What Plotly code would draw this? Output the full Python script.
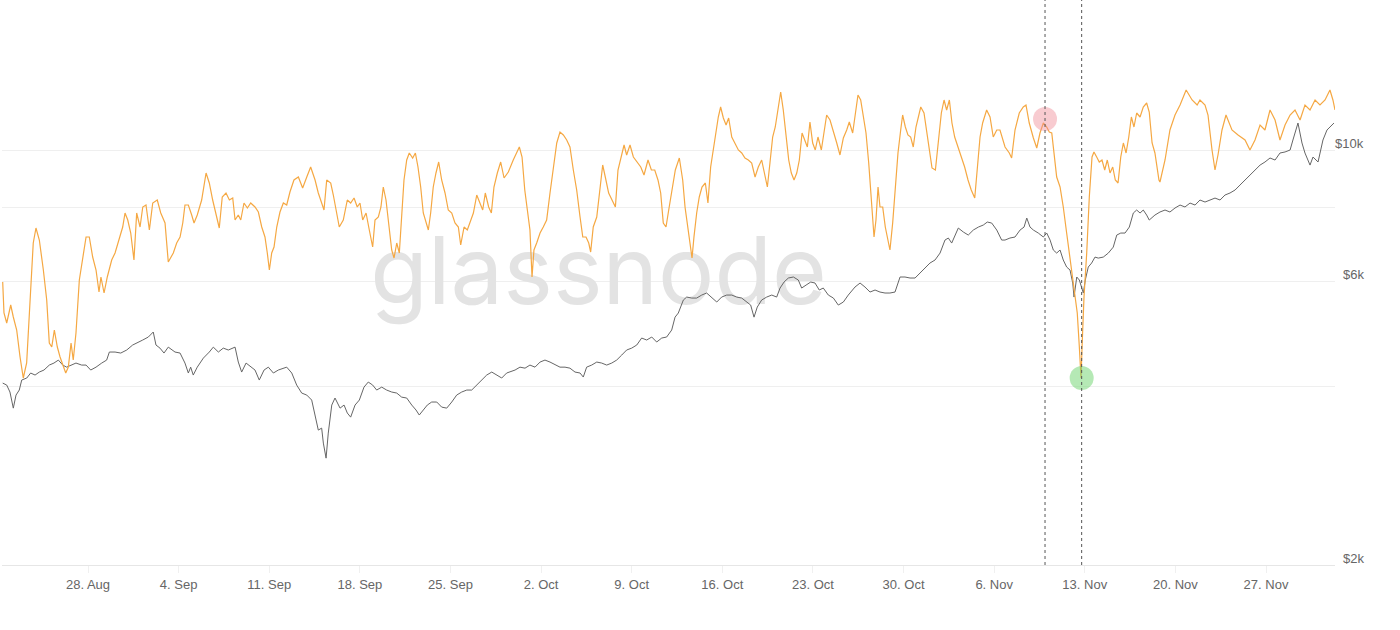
import math
import pandas as pd
import plotly.graph_objects as go

BASE = pd.Timestamp("2017-08-21")

# BTC price (USD), time in days since 2017-08-21
price_days = [
    0.41, 0.72, 0.97, 1.23, 1.44, 1.69, 1.88, 2.27, 2.57, 2.91,
    3.24, 3.60, 4.01, 4.37, 4.71, 5.05, 5.35, 5.74, 6.07, 6.51,
    6.85, 7.21, 7.62, 8.06, 8.44, 8.65, 9.09, 9.53, 9.99, 10.45,
    10.81, 11.23, 11.66, 12.04, 12.25, 12.56, 12.87, 13.20,
    13.72, 14.11, 14.49, 14.75, 14.93, 15.13, 15.44, 15.91, 16.37, 16.68,
    17.07, 17.45, 17.84, 18.36, 18.61, 18.87, 19.21, 19.57, 19.90, 20.23,
    20.60, 20.93, 21.32, 21.70, 22.09, 22.35, 22.74, 23.12, 23.51, 23.90,
    24.28, 24.54, 24.79, 25.05, 25.18, 25.39, 25.56, 25.83,
    26.08,
    26.47, 26.78, 27.03, 27.29, 27.63, 27.96, 28.32, 28.65, 28.99, 29.30,
    29.69, 30.07, 30.46, 30.85, 31.23, 31.62, 32.01, 32.34, 32.59, 32.90,
    33.21, 33.55, 33.94, 34.32, 34.71, 35.10, 35.48, 35.87, 36.26, 36.64,
    37.03, 37.41, 37.80, 38.19, 38.57, 38.96, 39.34,
    39.99, 40.37, 40.76, 41.14, 41.53, 41.92, 42.30, 42.69, 43.08, 43.46,
    43.85, 44.23, 44.62, 45.01, 45.26, 45.52, 45.91, 46.30, 46.68, 47.07,
    47.46, 47.84, 48.23, 48.61, 49.00, 49.39, 49.77, 50.16, 50.55, 50.93,
    51.32, 51.70, 52.09, 52.35, 52.60,
    52.99, 53.25, 53.64, 54.02, 54.41, 54.79, 55.18, 55.57, 55.95, 56.34,
    56.73, 57.11, 57.50, 57.89, 58.19, 58.45, 58.70, 59.04, 59.43, 59.82,
    60.20, 60.46, 60.77, 61.10, 61.49, 61.87, 62.13, 62.47, 62.83, 63.16,
    63.49, 63.80, 64.19, 64.58, 64.96, 65.35, 65.73, 66.25, 66.64, 67.02,
    67.41, 67.80, 68.18, 68.57, 68.95, 69.34, 69.73, 70.11, 70.50, 70.89,
    71.27, 71.66, 72.04, 72.43, 72.82, 73.20, 73.46, 73.72, 73.97, 74.23,
    74.62, 75.00, 75.39, 75.78, 76.16, 76.47, 76.81, 77.20, 77.58, 77.84,
    78.22, 78.61, 79.00, 79.31, 79.52, 79.77, 80.03, 80.41, 80.80, 81.06,
    81.32, 81.57, 81.83, 82.09, 82.34, 82.60, 82.86, 83.07, 83.17, 83.38,
    83.58, 83.73, 83.89, 84.04, 84.27, 84.53, 84.79, 85.04, 85.43, 85.82,
    86.20, 86.47, 86.78, 87.11, 87.44, 87.75, 88.01, 88.27, 88.52, 88.78, 88.98,
    89.42, 89.81, 90.20, 90.58, 90.97, 91.36, 91.74, 92.13, 92.52, 92.90,
    93.29, 93.67, 94.06, 94.45, 94.83, 95.22, 95.61, 95.99, 96.38, 96.76,
    97.15, 97.54, 97.92, 98.31, 98.70, 99.08, 99.47, 99.86, 100.08, 100.47,
    100.78, 101.01, 101.40, 101.63, 102.02, 102.40, 102.71, 103.10, 103.25,
]
price_usd = [
    4050, 4019, 3912, 3675, 3866, 3942, 4098, 4130, 4211, 4178,
    4227, 4260, 4343, 4377, 4428, 4343, 4308, 4343, 4377, 4343,
    4343, 4260, 4308, 4377, 4428, 4568, 4568, 4550, 4604, 4694,
    4730, 4786, 4842, 4937, 4694, 4638, 4550, 4656,
    4568, 4550, 4377, 4211, 4308, 4178, 4308, 4462, 4568, 4656,
    4568, 4638, 4604, 4656, 4394, 4227, 4377, 4308, 4260, 4098,
    4260, 4308, 4211, 4260, 4291, 4308, 4211, 4019, 3896, 3866,
    3792, 3549, 3375, 3401, 3209, 3027, 3336, 3719,
    3822,
    3675, 3719, 3606, 3549, 3719, 3792, 3987, 4066, 4019, 3942,
    3987, 3942, 3912, 3896, 3835, 3822, 3719, 3648, 3578, 3648,
    3719, 3763, 3763, 3690, 3675, 3763, 3866, 3912, 3942, 3942,
    4019, 4098, 4178, 4227, 4178, 4130, 4211,
    4260, 4308, 4291, 4343, 4308, 4394, 4428, 4394, 4343, 4308,
    4308, 4291, 4227, 4211, 4146, 4308, 4343, 4394, 4377, 4343,
    4377, 4428, 4515, 4604, 4638, 4694, 4823, 4786, 4842, 4749,
    4823, 4842, 4975, 5230, 5314,
    5589, 5654, 5632, 5632, 5698, 5743, 5654, 5546, 5654, 5698,
    5698, 5654, 5632, 5546, 5481, 5230, 5438, 5589, 5654, 5698,
    5654, 5855, 5993, 6087, 6111, 6040, 5855, 5923, 5993, 5970,
    5810, 5855, 5698, 5632, 5481, 5546, 5698, 5878, 5970, 5878,
    5765, 5810, 5765, 5743, 5743, 5765, 6111, 6111, 6087, 6087,
    6206, 6352, 6451, 6527, 6706, 7053, 7108, 6971, 7191, 7389,
    7276, 7191, 7332, 7417, 7475, 7563, 7534, 7332, 7053, 7053,
    7108, 7136, 7332, 7417, 7681, 7417, 7332, 7247, 7136, 7247,
    7053, 6785, 6706, 6785, 6527, 6352, 6279, 5970, 5654, 6111,
    6040, 5878, 5743, 6040, 6352, 6451, 6602, 6576, 6602, 6706,
    6862, 7191, 7247, 7247, 7417, 7832, 7924, 7832, 7924, 7771, 7622,
    7771, 7863, 7924, 7863, 7986, 8078, 8018, 8141, 8078, 8237,
    8173, 8237, 8300, 8237, 8398, 8465, 8563, 8730, 8902, 9075,
    9254, 9433, 9546, 9695, 9619, 9884, 9925, 10000, 10396, 11104,
    10275, 9884, 9433, 9732, 9546, 10396, 10807, 11018, 11104,
]

# Hash rate (EH/s), time in days since 2017-08-21
hash_days = [
    0.41, 0.51, 0.72, 1.03, 1.23, 1.49, 1.75, 2.00, 2.26, 2.52,
    2.77, 2.98, 3.24, 3.55, 3.81, 4.01, 4.20, 4.40, 4.63, 4.84,
    5.09, 5.28, 5.48, 5.69, 5.86, 6.07, 6.33, 6.59, 6.85, 7.10,
    7.36, 7.62, 7.85, 8.00, 8.24, 8.49, 8.83, 9.09, 9.42, 9.68,
    9.86, 10.07, 10.30, 10.55, 10.76, 11.02, 11.23, 11.48, 11.74, 12.00,
    12.35, 12.62, 12.95, 13.20, 13.59, 13.85, 14.11, 14.32, 14.49, 14.75,
    15.01, 15.19, 15.44, 15.78, 16.12, 16.37, 16.63, 16.89, 17.14, 17.37,
    17.66, 17.92, 18.18, 18.36, 18.61, 18.80, 19.05, 19.31, 19.57, 19.90,
    20.16, 20.42, 20.67, 20.85, 21.01, 21.19, 21.37, 21.58, 21.83, 22.09,
    22.35, 22.60, 22.91, 23.25, 23.58, 23.90, 24.20, 24.54, 24.79, 25.05,
    25.23, 25.44, 25.75, 25.95, 26.21, 26.41, 26.72, 27.03, 27.29, 27.55,
    27.80, 28.01, 28.22, 28.48, 28.73, 28.99, 29.17, 29.43, 29.63, 29.81,
    30.02, 30.23, 30.46, 30.64, 30.85, 31.05, 31.23, 31.41, 31.62, 31.82,
    32.08, 32.29, 32.49, 32.70, 32.90, 33.11, 33.29, 33.47, 33.67, 33.88,
    34.09, 34.32, 34.58, 34.83, 35.10, 35.35, 35.61, 35.79, 36.05, 36.30,
    36.56, 36.77, 37.03, 37.28, 37.49, 37.69, 37.95, 38.16, 38.36, 38.62,
    38.88, 39.14, 39.47, 39.85, 40.12, 40.32, 40.53, 40.74, 40.94, 41.14,
    41.30, 41.45, 41.66, 41.92, 42.17, 42.43, 42.69, 42.94, 43.21, 43.46,
    43.72, 43.98, 44.23, 44.49, 44.75, 45.01, 45.22, 45.47, 45.68, 45.83,
    46.03, 46.30, 46.55, 46.76, 46.96, 47.22, 47.48, 47.74, 47.94, 48.20,
    48.41, 48.61, 48.87, 49.13, 49.39, 49.70, 49.95, 50.26, 50.52, 50.78,
    51.03, 51.24, 51.44, 51.65, 51.86, 52.11, 52.37, 52.68, 52.94, 53.12,
    53.30, 53.50, 53.66, 53.81, 54.02, 54.22, 54.43, 54.69, 54.89, 55.10,
    55.30, 55.51, 55.69, 55.87, 56.08, 56.29, 56.49, 56.73, 56.98, 57.24,
    57.50, 57.75, 58.01, 58.27, 58.53, 58.78, 59.04, 59.22, 59.48, 59.68,
    59.89, 60.09, 60.30, 60.51, 60.71, 60.92, 61.13, 61.33, 61.54, 61.75,
    61.95, 62.16, 62.37, 62.57, 62.77, 62.98, 63.18, 63.39, 63.65, 63.86,
    64.06, 64.32, 64.57, 64.84, 65.09, 65.35, 65.61, 65.81, 66.07, 66.27,
    66.48, 66.69, 66.89, 67.10, 67.31, 67.51, 67.72, 67.87, 68.03, 68.18,
    68.39, 68.59, 68.75, 68.95, 69.16, 69.36, 69.57, 69.78, 69.93, 70.14,
    70.34, 70.55, 70.75, 70.96, 71.17, 71.33, 71.58, 71.79, 71.99, 72.20,
    72.46, 72.72, 72.92, 73.13, 73.33, 73.54, 73.74, 73.95, 74.21, 74.46,
    74.72, 74.98, 75.23, 75.50, 75.70, 75.91, 76.11, 76.42, 76.68, 76.93,
    77.20, 77.45, 77.84, 78.17, 78.35, 78.61, 78.94, 79.25, 79.46, 79.71,
    80.03, 80.29, 80.54, 80.80, 81.06, 81.26, 81.45, 81.57, 81.70, 81.83,
    82.09, 82.34, 82.60, 82.86, 83.07, 83.25, 83.42, 83.58, 83.71, 83.79,
    83.94, 84.15, 84.35, 84.56, 84.71, 84.92, 85.12, 85.33, 85.54, 85.74,
    85.95, 86.16, 86.36, 86.57, 86.78, 86.98, 87.19, 87.40, 87.60, 87.80,
    88.01, 88.27, 88.52, 88.78, 88.98, 89.20, 89.42, 89.73, 89.81, 90.20,
    90.58, 90.97, 91.36, 91.83, 92.29, 92.68, 92.90, 93.29, 93.52, 93.83,
    94.06, 94.29, 94.60, 94.91, 95.37, 95.84, 96.38, 96.76, 97.15, 97.54,
    97.92, 98.31, 98.70, 99.08, 99.47, 99.86, 100.24, 100.63, 101.01, 101.40,
    101.79, 102.17, 102.56, 102.94, 103.17, 103.33,
]
hash_rate = [
    8.49, 7.56, 7.26, 7.80, 7.44, 7.05, 6.24, 5.61, 6.06, 8.04,
    9.66, 10.11, 9.75, 8.85, 7.95, 6.66, 6.54, 7.05, 6.54, 6.24,
    5.94, 5.76, 5.94, 6.66, 6.15, 6.96, 8.55, 9.15, 9.84, 9.84,
    9.24, 8.85, 8.19, 8.64, 8.16, 8.64, 9.15, 9.36, 9.84, 10.14,
    10.56, 10.35, 9.96, 9.15, 10.56, 10.14, 10.74, 10.80, 10.05, 10.86,
    10.95, 10.56, 10.26, 9.09, 9.36, 9.66, 9.84, 10.26, 10.80, 10.80,
    10.50, 10.26, 10.50, 10.95, 11.76, 11.46, 10.95, 10.56, 10.11, 11.04,
    11.16, 10.95, 11.01, 10.35, 10.50, 10.35, 10.86, 10.71, 10.86, 10.74,
    10.59, 10.14, 9.84, 9.36, 8.85, 9.36, 9.54, 10.14, 10.59, 10.86,
    10.80, 11.19, 11.55, 11.64, 11.31, 11.64, 11.94, 11.55, 11.16, 10.86,
    10.65, 11.55, 11.46, 11.10, 10.56, 10.14, 10.35, 10.95, 10.86, 11.01,
    10.74, 10.86, 10.35, 10.56, 10.05, 9.54, 10.35, 10.44, 10.74, 11.34,
    10.95, 10.14, 9.45, 9.21, 9.66, 9.36, 10.44, 11.55, 12.15, 12.36,
    12.21, 12.36, 11.94, 11.34, 10.56, 10.26, 10.05, 10.56, 11.34, 11.76,
    12.09, 11.55, 11.16, 10.65, 10.56, 10.26, 10.14, 9.60, 10.14, 10.05,
    10.35, 10.56, 11.10, 10.86, 10.65, 11.16, 10.74, 10.56, 11.34, 11.76,
    12.09, 11.61, 11.79, 12.15, 12.36, 12.54, 12.24, 11.25, 10.65, 10.05,
    8.64, 9.45, 9.66, 9.96, 10.14, 10.35, 11.16, 11.85, 12.66, 12.99,
    12.90, 12.75, 12.54, 11.85, 11.25, 10.44, 9.84, 9.84, 9.66, 9.39,
    10.14, 10.44, 11.25, 12.00, 11.64, 11.16, 10.95, 10.74, 11.85, 12.24,
    12.60, 12.30, 12.60, 12.24, 12.09, 11.94, 11.70, 12.15, 11.85, 11.85,
    11.55, 11.16, 10.26, 10.14, 10.65, 11.25, 11.85, 12.21, 11.55, 10.74,
    10.26, 9.75, 9.21, 9.84, 10.56, 11.04, 11.34, 11.46, 10.86, 11.94,
    12.45, 13.05, 13.44, 13.74, 13.41, 13.20, 13.41, 12.84, 12.66, 12.45,
    12.36, 12.21, 12.15, 12.06, 11.64, 11.94, 12.15, 11.85, 11.34, 12.06,
    12.84, 13.14, 13.74, 14.19, 13.65, 12.96, 12.15, 11.76, 11.55, 11.76,
    12.15, 12.96, 12.75, 12.54, 13.29, 12.66, 12.45, 12.84, 12.45, 13.05,
    13.50, 13.35, 13.05, 12.66, 12.30, 12.81, 13.05, 13.29, 12.96, 13.56,
    14.10, 13.95, 13.44, 12.96, 12.06, 10.95, 9.84, 10.35, 11.34, 10.74,
    10.74, 10.14, 9.84, 9.45, 10.26, 11.34, 12.36, 13.05, 13.50, 13.14,
    12.90, 12.84, 12.54, 13.14, 13.44, 13.74, 13.56, 12.96, 12.36, 11.91,
    11.85, 12.75, 13.56, 13.95, 13.65, 13.95, 13.26, 12.84, 12.54, 12.24,
    11.94, 11.55, 11.25, 11.01, 11.94, 12.84, 13.26, 13.65, 13.44, 12.84,
    13.05, 13.05, 12.54, 12.36, 12.21, 13.05, 13.56, 13.74, 13.80, 13.26,
    12.81, 12.51, 12.96, 13.26, 13.14, 12.99, 12.96, 12.54, 12.06, 11.64,
    11.34, 10.74, 9.96, 9.15, 8.55, 8.04, 7.56, 6.54, 5.61, 6.54,
    8.04, 9.36, 11.04, 12.24, 12.39, 12.24, 12.09, 12.15, 11.85, 12.15,
    11.76, 11.94, 11.55, 11.46, 12.24, 12.66, 12.36, 12.84, 13.44, 13.14,
    13.56, 13.44, 13.74, 13.86, 13.59, 12.66, 12.36, 11.55, 11.49, 12.15,
    13.05, 13.50, 13.80, 14.25, 13.95, 13.80, 13.95, 13.80, 13.50, 12.45,
    11.85, 12.30, 13.05, 13.50, 13.05, 12.90, 12.75, 12.45, 12.75, 13.20,
    13.05, 13.65, 13.35, 12.75, 13.20, 13.50, 13.65, 13.35, 13.80, 13.65,
    13.95, 13.80, 13.95, 14.25, 13.95, 13.65,
]

# Highlighted events (days since 2017-08-21) and hash rate at those points
event_days = [80.93, 83.76]
event_hash = [13.38, 5.61]
event_colors = ["rgba(240,140,150,0.45)", "rgba(120,215,120,0.55)"]

# Price axis ticks
price_ticks = [2000, 4000, 6000, 8000, 10000]
price_labels = {2000: "$2k", 6000: "$6k", 10000: "$10k"}


def to_time(days):
    return [BASE + pd.Timedelta(days=d) for d in days]


x_start = BASE + pd.Timedelta(days=0.356)
x_end = BASE + pd.Timedelta(days=103.33)
y_lo, y_hi = math.log10(2000), 4.2527
h_max = 16.95

fig = go.Figure()

# watermark (beneath the lines)
wm_x = x_start + (x_end - x_start) * 0.4475
wm_y = 10 ** (y_lo + (y_hi - y_lo) * (1 - 280 / 565))
fig.add_trace(go.Scatter(
    x=[wm_x], y=[wm_y], mode="text", text=["glassnode"],
    textfont=dict(family="Inter", size=94, color="#e3e3e3"),
    textposition="middle center", hoverinfo="skip", showlegend=False,
))

fig.add_trace(go.Scatter(
    x=to_time(price_days), y=price_usd, mode="lines", name="Price",
    line=dict(color="#666666", width=1), showlegend=False,
))

fig.add_trace(go.Scatter(
    x=to_time(hash_days), y=hash_rate, mode="lines", name="Hash Rate",
    line=dict(color="#f5a843", width=1.2), yaxis="y2", showlegend=False,
))

fig.add_trace(go.Scatter(
    x=to_time(event_days), y=event_hash, mode="markers", yaxis="y2",
    marker=dict(size=24, color=event_colors, line=dict(width=0)),
    hoverinfo="skip", showlegend=False,
))

shapes = []
for t in to_time(event_days):
    shapes.append(dict(
        type="line", xref="x", yref="paper", x0=t, x1=t, y0=0, y1=1,
        line=dict(color="#555555", width=1, dash="3px,3px"),
    ))

annotations = []
for v in price_ticks:
    if v in price_labels:
        annotations.append(dict(
            xref="paper", yref="y", x=1.0233, y=math.log10(v),
            xanchor="right", yanchor="middle", yshift=7, showarrow=False,
            text=price_labels[v],
            font=dict(family="Liberation Sans, Arial", size=13, color="#666666"),
        ))

fig.update_layout(
    width=1400, height=630,
    margin=dict(l=2, r=65, t=0, b=65),
    paper_bgcolor="white", plot_bgcolor="white",
    shapes=shapes, annotations=annotations,
    xaxis=dict(
        type="date", range=[x_start, x_end],
        tick0="2017-08-28", dtick=7 * 86400000, tickformat="%-d. %b",
        showgrid=False, zeroline=False,
        showline=True, linecolor="#e6e6e6", linewidth=1,
        ticks="outside", ticklen=7, tickcolor="#f0f0f0",
        tickfont=dict(family="Liberation Sans, Arial", size=13, color="#666666"),
    ),
    yaxis=dict(
        type="log", range=[y_lo, y_hi], side="right",
        tickvals=price_ticks, showticklabels=False,
        showgrid=True, gridcolor="#efefef", gridwidth=1,
        zeroline=False, showline=False, ticks="",
    ),
    yaxis2=dict(
        overlaying="y", range=[0, h_max], visible=False,
        showgrid=False, zeroline=False,
    ),
    hovermode=False,
)

fig.write_html(
    "out.html",
    config={"displayModeBar": False},
    post_script="document.body.style.margin='0';document.body.style.padding='0';",
)
